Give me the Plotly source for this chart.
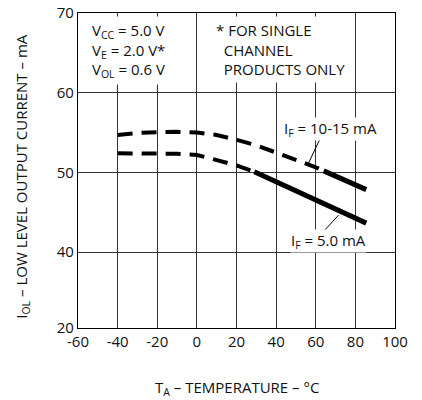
import plotly.graph_objects as go

# ---- data ----
temp_hi_dash = [-40, -30, -20, -10, 0, 10, 20, 30, 40, 50, 60, 64]
iol_hi_dash = [54.7, 54.95, 55.05, 55.1, 55.0, 54.7, 54.1, 53.4, 52.5, 51.6, 50.65, 50.2]
temp_hi_solid = [64, 75, 85.5]
iol_hi_solid = [50.2, 49.05, 47.85]

temp_lo_dash = [-40, -30, -20, -10, 0, 10, 20, 29]
iol_lo_dash = [52.4, 52.4, 52.4, 52.35, 52.2, 51.6, 50.9, 50.1]
temp_lo_solid = [29, 60, 85.5]
iol_lo_solid = [50.1, 46.5, 43.65]

x_ticks = [-60, -40, -20, 0, 20, 40, 60, 80, 100]
x_ticktext = ["-60", "-40", "-20", "0", "20", "40", "60", "80", "100"]
y_ticks = [30.5, 40, 50, 60, 70]
y_ticktext = ["20", "40", "50", "60", "70"]

FONT = "Open Sans"
FS = 15
fig = go.Figure()

dash_style = dict(color="black", width=4, dash="15px,9px")
solid_style = dict(color="black", width=5)

fig.add_trace(go.Scatter(x=temp_hi_dash, y=iol_hi_dash, mode="lines", line=dash_style))
fig.add_trace(go.Scatter(x=temp_hi_solid, y=iol_hi_solid, mode="lines", line=solid_style))
fig.add_trace(go.Scatter(x=temp_lo_dash, y=iol_lo_dash, mode="lines", line=dash_style))
fig.add_trace(go.Scatter(x=temp_lo_solid, y=iol_lo_solid, mode="lines", line=solid_style))

# leader lines
fig.add_shape(type="line", xref="x", yref="y", x0=62.2, y0=54.25, x1=56.2, y1=51.1,
              line=dict(color="black", width=1))
fig.add_shape(type="line", xref="x", yref="y", x0=71.5, y0=44.65, x1=63.9, y1=42.6,
              line=dict(color="black", width=1))

NB = "\u00a0"
annos = [
    dict(x=0.032, y=0.992, xref="paper", yref="paper", xanchor="left", yanchor="top",
         align="left", showarrow=False, bgcolor="white", borderpad=3,
         text="V<sub>CC</sub> = 5.0 V<br>V<sub>E</sub> = 2.0 V*<br>V<sub>OL</sub> = 0.6 V"),
    dict(x=0.423, y=0.992, xref="paper", yref="paper", xanchor="left", yanchor="top",
         align="left", showarrow=False, bgcolor="white", borderpad=3,
         text="* FOR SINGLE<br>" + NB * 2 + "CHANNEL<br>" + NB * 2 + "PRODUCTS ONLY"),
    dict(x=67.3, y=55.5, xref="x", yref="y", showarrow=False, bgcolor="white", borderpad=0,
         text="I<sub>F</sub> = 10-15 mA"),
    dict(x=66.2, y=41.4, xref="x", yref="y", showarrow=False, bgcolor="white", borderpad=0,
         text="I<sub>F</sub> = 5.0 mA"),
    dict(x=0.5, y=-0.19, xref="paper", yref="paper", xanchor="center", yanchor="middle",
         showarrow=False, text="T<sub>A</sub> – TEMPERATURE – °C"),
    dict(x=-0.177, y=0.483, xref="paper", yref="paper", xanchor="center", yanchor="middle",
         showarrow=False, textangle=-90,
         text="I<sub>OL</sub> – LOW LEVEL OUTPUT CURRENT – mA"),
]
fig.update_layout(annotations=annos)

axis_common = dict(showgrid=True, gridcolor="#333333", gridwidth=1,
                   showline=True, linecolor="black", linewidth=1.3, mirror=True,
                   zeroline=False, ticks="", ticklen=0, automargin=False,
                   tickfont=dict(size=FS, color="#111111", family=FONT))
fig.update_xaxes(range=[-60, 100], tickvals=x_ticks, ticktext=x_ticktext, **axis_common)
fig.update_yaxes(range=[30.5, 70], tickvals=y_ticks, ticktext=y_ticktext, **axis_common)

fig.update_layout(
    width=422, height=400,
    margin=dict(l=78, r=27, t=13, b=72, autoexpand=False),
    paper_bgcolor="white", plot_bgcolor="white",
    showlegend=False,
    font=dict(family=FONT, size=FS, color="#111111"),
)

# remove the browser's default 8px body margin so the figure sits at the page origin
fig.write_html("out.html", config={"displayModeBar": False},
               post_script="document.body.style.margin='0';")
